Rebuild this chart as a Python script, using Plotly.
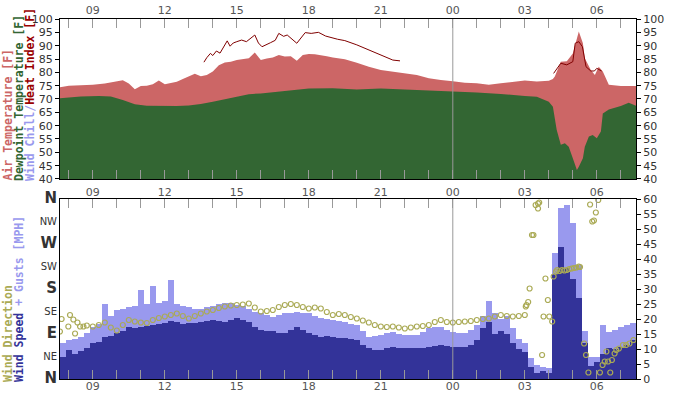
import plotly.graph_objects as go

# ---------------- data ----------------
# times are hours since midnight of day 1 (24+ = next day)
x_range = [7.633, 31.633]
tick_hours = [9, 12, 15, 18, 21, 24, 27, 30]
tick_labels = ["09", "12", "15", "18", "21", "00", "03", "06"]

temp_hours = [7.63, 8.0, 8.5, 9.0, 9.5, 10.0, 10.25, 10.5, 10.75, 11.0, 11.25, 11.5, 11.75, 12.0,
              12.25, 12.5, 12.75, 13.0, 13.25, 13.5, 13.75, 14.0, 14.25, 14.5, 14.75, 15.0, 15.25,
              15.5, 15.75, 16.0, 16.25, 16.5, 16.75, 17.0, 17.25, 17.5, 17.75, 18.0, 18.25, 18.5,
              18.75, 19.0, 19.5, 20.0, 20.5, 21.0, 21.5, 22.0, 22.5, 23.0, 23.5, 24.0, 24.5, 25.0,
              25.5, 26.0, 26.5, 27.0, 27.5, 28.0, 28.17, 28.25, 28.5, 28.75, 29.0, 29.17, 29.25,
              29.42, 29.5, 29.75, 29.92, 30.08, 30.25, 30.5, 31.0, 31.64]
air_temp = [74.4, 75.0, 75.2, 75.3, 75.8, 76.5, 77.0, 75.8, 73.7, 74.9, 75.0, 75.5, 76.9, 75.5,
            76.0, 76.5, 77.5, 78.4, 79.5, 78.5, 79.0, 80.3, 82.7, 83.7, 84.0, 84.6, 85.0,
            85.3, 87.4, 84.6, 85.2, 85.6, 86.5, 85.9, 86.0, 84.3, 86.5, 86.9, 86.8, 86.5,
            86.0, 85.6, 84.9, 83.6, 82.1, 80.9, 80.3, 79.6, 79.0, 77.8, 77.1, 76.7, 76.1, 75.9,
            75.3, 75.9, 76.5, 76.9, 76.6, 76.8, 77.5, 78.4, 84.0, 84.2, 87.1, 93.4, 95.3,
            90.9, 85.3, 80.9, 79.0, 82.1, 80.3, 75.3, 74.9, 74.9]

dew_hours = [7.63, 8.5, 9.25, 9.75, 10.25, 10.75, 11.25, 12.0, 12.5, 13.0, 13.5, 14.0, 14.5, 15.0,
             15.5, 16.0, 17.0, 18.0, 19.0, 20.0, 21.0, 22.0, 23.0, 24.0, 25.0, 26.0, 27.0, 27.5,
             28.0, 28.17, 28.33, 28.5, 28.67, 28.83, 29.0, 29.17, 29.25, 29.42, 29.5, 29.67,
             29.83, 30.0, 30.17, 30.25, 30.5, 31.0, 31.33, 31.64]
dewpoint = [70.3, 70.9, 71.1, 70.9, 69.6, 68.0, 67.5, 67.4, 67.4, 67.6, 68.1, 69.0, 70.0, 70.9,
            71.8, 72.1, 73.1, 73.9, 74.0, 73.6, 73.9, 73.6, 73.1, 72.8, 72.4, 71.9, 71.1, 70.8,
            69.0, 67.1, 58.4, 52.8, 53.4, 52.1, 47.8, 43.4, 44.6, 47.8, 52.1, 55.9,
            56.5, 55.3, 57.8, 64.6, 66.1, 67.4, 68.6, 67.4]

heat_hours = [13.63, 13.75, 13.9, 14.0, 14.15, 14.3, 14.45, 14.6, 14.72, 14.85, 15.0, 15.2, 15.4,
              15.6, 15.75, 15.9, 16.05, 16.4, 16.6, 16.75, 16.95, 17.1, 17.3, 17.5, 17.85, 18.1,
              18.4, 18.7, 19.2, 19.5, 20.0, 20.6, 21.1, 21.5, 21.8,
              None,
              28.2, 28.5, 28.75, 29.0, 29.1, 29.25, 29.4, 29.55, 29.75, 29.9, 30.0, 30.2]
heat_index = [83.8, 85.5, 87.1, 86.3, 88.0, 87.2, 89.5, 91.8, 89.8, 91.0, 91.5, 92.1, 91.5,
              93.0, 94.0, 91.0, 89.6, 91.1, 92.0, 94.6, 93.5, 94.0, 92.5, 90.9, 94.9, 94.6,
              95.0, 93.6, 92.4, 91.9, 90.3, 88.0, 85.9, 84.6, 84.3,
              None,
              79.6, 83.4, 82.8, 84.0, 90.9, 91.5, 89.6, 82.1, 80.5, 80.5, 81.5, 80.5]

# wind: 15-minute samples starting 07:45
wind_speed = [7.5, 9.7, 8.5, 9.2, 10.5, 11.9, 12.5, 14.1, 14.5, 15.2, 16.0, 17.4, 17.0, 17.4,
              17.8, 18.0, 18.3, 18.6, 19.5, 19.1, 18.5, 18.6, 18.8, 19.0, 19.3, 19.7, 19.5,
              19.0, 19.8, 20.3, 19.8, 19.1, 17.5, 16.3, 16.0, 16.0, 15.5, 15.2, 16.5, 17.4,
              16.5, 15.2, 14.8, 14.1, 14.3, 14.1, 13.8, 13.6, 13.3, 13.0, 11.5, 10.2, 9.8, 9.7,
              10.3, 10.8, 10.5, 10.2, 10.2, 10.2, 10.5, 10.8, 11.0, 11.4, 11.0, 10.8, 10.8,
              10.8, 11.3, 13.0, 17.0, 19.0, 15.0, 16.0, 15.0, 12.0, 10.0, 9.0, 4.0, 2.0, 2.8,
              2.0, 35.0, 44.0, 37.0, 33.5, 27.0, 12.0, 4.5, 5.6, 8.5, 10.2, 10.0, 10.8, 11.5, 12.9]
wind_gust = [11.9, 12.9, 13.5, 14.1, 15.5, 17.4, 18.5, 25.0, 21.0, 23.0, 23.5, 24.1, 24.5, 29.7,
             25.0, 31.0, 25.5, 26.0, 33.0, 25.0, 24.5, 24.0, 23.5, 23.5, 24.0, 24.5, 25.0,
             25.2, 25.5, 24.6, 24.5, 23.5, 22.5, 21.9, 21.5, 20.8, 21.5, 21.9, 22.0, 22.4,
             22.0, 21.9, 21.0, 20.2, 20.0, 19.7, 19.5, 19.1, 18.5, 18.0, 16.0, 14.1, 14.5, 14.7,
             15.2, 15.8, 15.0, 14.7, 14.7, 14.7, 15.8, 16.9, 17.2, 17.4, 16.5, 15.8, 15.5,
             15.2, 16.3, 18.0, 21.0, 26.0, 22.0, 20.0, 21.0, 17.0, 13.5, 12.0, 7.0, 4.8, 4.0,
             3.7, 42.0, 57.0, 58.0, 52.0, 38.0, 16.0, 7.5, 7.3, 18.0, 15.8, 16.5, 17.4, 18.0, 18.6]
wind_hours = [7.75 + 0.25 * i for i in range(len(wind_speed))]

dir_hours = [7.63, 7.70, 7.98, 8.05, 8.19, 8.26, 8.36, 8.47, 8.61, 8.75, 9.0, 9.25, 9.5, 9.75,
             10.0, 10.25, 10.5, 10.75, 11.0, 11.25, 11.5, 11.75, 12.0, 12.25, 12.5, 12.75, 13.0,
             13.25, 13.5, 13.75, 14.0, 14.25, 14.5, 14.75, 15.0, 15.25, 15.5, 15.75, 16.0, 16.25,
             16.5, 16.75, 17.0, 17.25, 17.5, 17.75, 18.0, 18.25, 18.5, 18.75, 19.0, 19.25, 19.5,
             19.75, 20.0, 20.25, 20.5, 20.75, 21.0, 21.25, 21.5, 21.75, 22.0, 22.25, 22.5, 22.75,
             23.0, 23.25, 23.5, 23.75, 24.0, 24.25, 24.5, 24.75, 25.0, 25.25, 25.5, 25.75, 26.0,
             26.25, 26.5, 26.75, 27.0, 27.04, 27.07, 27.14, 27.2, 27.3, 27.36, 27.45, 27.55,
             27.6, 27.55, 27.72, 27.78, 27.86, 27.96, 28.02, 28.14, 28.2, 28.3, 28.35, 28.45,
             28.55, 28.65, 28.75, 28.85, 28.95, 29.05, 29.15, 29.25, 29.3, 29.47, 29.55, 29.65,
             29.72, 29.81, 29.88, 29.96, 30.06, 30.13, 30.24, 30.33, 30.4, 30.47, 30.56, 30.63,
             30.74, 30.81, 30.92, 31.09, 31.22, 31.36, 31.53]
wind_dir = [95, 120, 105, 128, 119, 91, 113, 105, 105, 107, 105, 108, 113, 103,
            97, 108, 118, 115, 113, 112, 118, 122, 125, 128, 131, 126, 121,
            126, 131, 135, 138, 142, 145, 147, 148, 149, 151, 143, 135, 136,
            138, 144, 148, 150, 148, 144, 141, 143, 141, 134, 128, 130, 128,
            124, 121, 117, 113, 108, 105, 104, 105, 103, 101, 103, 105, 106,
            108, 114, 118, 114, 113, 114, 115, 116, 118, 120, 121, 125, 128,
            126, 125, 126, 128, 145, 148, 154, 181, 288, 288, 348, 351,
            353, 341, 48, 125, 201, 158, 125, 115, 205, 215, 218, 216,
            218, 217, 218, 220, 221, 222, 223, 225, 224, 71, 48, 13,
            349, 315, 317, 333, 358, 13, 28, 35, 55, 35, 13, 38,
            51, 58, 61, 68, 68, 71, 78]

dir_tickvals = [0, 45, 90, 135, 180, 225, 270, 315, 360]
dir_ticktext = ["N", "NE", "E", "SE", "S", "SW", "W", "NW", "N"]

# ---------------- styling ----------------
C_AIR = "#CC6666"
C_DEW = "#336633"
C_HEAT = "#800000"
C_CHILL = "#9999EE"
C_SPEED = "#333399"
C_GUST = "#9999EE"
C_DIR = "#AAAA55"
TICKFONT = dict(family="DejaVu Sans", size=11, color="#333333")
XTICKFONT = dict(family="DejaVu Sans", size=11, color="#555555")

fig = go.Figure()

fig.add_trace(go.Scatter(x=temp_hours, y=air_temp, mode="lines", line=dict(width=0, color=C_AIR),
                         fill="tozeroy", fillcolor=C_AIR, xaxis="x", yaxis="y", hoverinfo="skip"))
fig.add_trace(go.Scatter(x=dew_hours, y=dewpoint, mode="lines", line=dict(width=0, color=C_DEW),
                         fill="tozeroy", fillcolor=C_DEW, xaxis="x", yaxis="y", hoverinfo="skip"))
fig.add_trace(go.Scatter(x=heat_hours, y=heat_index, mode="lines", line=dict(width=1, color=C_HEAT),
                         connectgaps=False, xaxis="x", yaxis="y", hoverinfo="skip"))
# dummy for right temperature axis
fig.add_trace(go.Scatter(x=[x_range[0]], y=[40], mode="markers", marker=dict(opacity=0),
                         xaxis="x", yaxis="y2", hoverinfo="skip"))

fig.add_trace(go.Bar(x=wind_hours, y=wind_gust, marker=dict(color=C_GUST, line=dict(width=0)),
                     width=0.25, xaxis="x2", yaxis="y3", hoverinfo="skip"))
fig.add_trace(go.Bar(x=wind_hours, y=wind_speed, marker=dict(color=C_SPEED, line=dict(width=0)),
                     width=0.25, xaxis="x2", yaxis="y3", hoverinfo="skip"))
fig.add_trace(go.Scatter(x=dir_hours, y=wind_dir, mode="markers",
                         marker=dict(symbol="circle-open", size=5, color=C_DIR, line=dict(width=1.2, color=C_DIR)),
                         xaxis="x2", yaxis="y4", hoverinfo="skip"))
# dummy for middle x labels
fig.add_trace(go.Scatter(x=[x_range[0]], y=[0], mode="markers", marker=dict(opacity=0),
                         xaxis="x3", yaxis="y3", hoverinfo="skip"))

xcommon = dict(range=x_range, tickmode="array", tickvals=tick_hours, ticktext=tick_labels,
               showgrid=False, zeroline=False, tickfont=XTICKFONT, automargin=False)

fig.update_layout(
    width=699, height=393,
    margin=dict(l=60, r=63, t=19, b=14, autoexpand=False),
    paper_bgcolor="white", plot_bgcolor="white",
    showlegend=False, barmode="overlay", bargap=0,
    xaxis=dict(**xcommon, domain=[0, 1], anchor="y", side="top", ticks="inside", ticklen=9,
               tickcolor="#999999", showline=True, linecolor="black", linewidth=1, mirror="allticks",
               minor=dict(dtick=1, tick0=0, ticks="inside", ticklen=5, tickcolor="#999999")),
    yaxis=dict(domain=[0.5556, 1], range=[40, 100], dtick=5, tick0=40, anchor="x", side="left",
               ticks="outside", ticklen=4, tickcolor="black", showline=True, linecolor="black",
               showgrid=False, zeroline=False, tickfont=TICKFONT, automargin=False),
    yaxis2=dict(range=[40, 100], dtick=5, tick0=40, overlaying="y", anchor="x", side="right",
                ticks="outside", ticklen=4, tickcolor="black", showline=True, linecolor="black",
                showgrid=False, zeroline=False, tickfont=TICKFONT, automargin=False),
    xaxis2=dict(**xcommon, domain=[0, 1], anchor="y3", side="bottom", ticks="inside", ticklen=9,
                tickcolor="#999999", showline=True, linecolor="black", linewidth=1, mirror="allticks",
                ticklabelstandoff=-3,
                minor=dict(dtick=1, tick0=0, ticks="inside", ticklen=5, tickcolor="#999999")),
    xaxis3=dict(**xcommon, overlaying="x2", anchor="y3", side="top", ticks="", showline=False),
    yaxis3=dict(domain=[0, 0.5], range=[0, 60], dtick=5, tick0=0, anchor="x2", side="right",
                ticks="outside", ticklen=4, tickcolor="black", showline=True, linecolor="black",
                showgrid=False, zeroline=False, tickfont=TICKFONT, automargin=False),
    yaxis4=dict(range=[0, 360], overlaying="y3", anchor="x2", side="left", tickmode="array",
                tickvals=dir_tickvals,
                ticktext=[("<b><span style='font-size:15px'>%s</span></b>" % t) if len(t) == 1 else t
                          for t in dir_ticktext],
                ticks="", showline=True, linecolor="black", showgrid=False, zeroline=False,
                tickfont=dict(family="DejaVu Sans", size=10, color="#333333"), automargin=False),
)

# midnight lines
fig.add_shape(type="line", xref="x", yref="y", x0=24, x1=24, y0=40, y1=100,
              line=dict(color="#999999", width=1), layer="above")
fig.add_shape(type="line", xref="x2", yref="y3", x0=24, x1=24, y0=0, y1=60,
              line=dict(color="#999999", width=1), layer="above")

TFONT = dict(family="DejaVu Sans Mono", size=11.5)
def vlabel(px, py, text):
    fig.add_annotation(xref="paper", yref="paper", x=(px - 60) / 576, y=(379 - py) / 360,
                       xanchor="center", yanchor="bottom", textangle=-90, showarrow=False,
                       text=text, font=TFONT, borderpad=0)

vlabel(7.5, 182, "<b><span style='color:%s'>Air Temperature [F]</span></b>" % C_AIR)
vlabel(19, 182, "<b><span style='color:%s'>Dewpoint Temperature [F]</span></b>" % C_DEW)
vlabel(30.5, 182, "<b><span style='color:%s'>Wind Chill/</span><span style='color:#990000'>Heat Index [F]</span></b>" % C_CHILL)
vlabel(7.5, 383, "<b><span style='color:%s'>Wind Direction</span></b>" % C_DIR)
vlabel(19, 383, "<b><span style='color:%s'>Wind Speed</span><span style='color:%s'> + Gusts [MPH]</span></b>" % (C_SPEED, C_GUST))

fig.write_html("out.html", config={"displayModeBar": False},
               post_script="document.body.style.margin='0';document.body.style.overflow='hidden';")
